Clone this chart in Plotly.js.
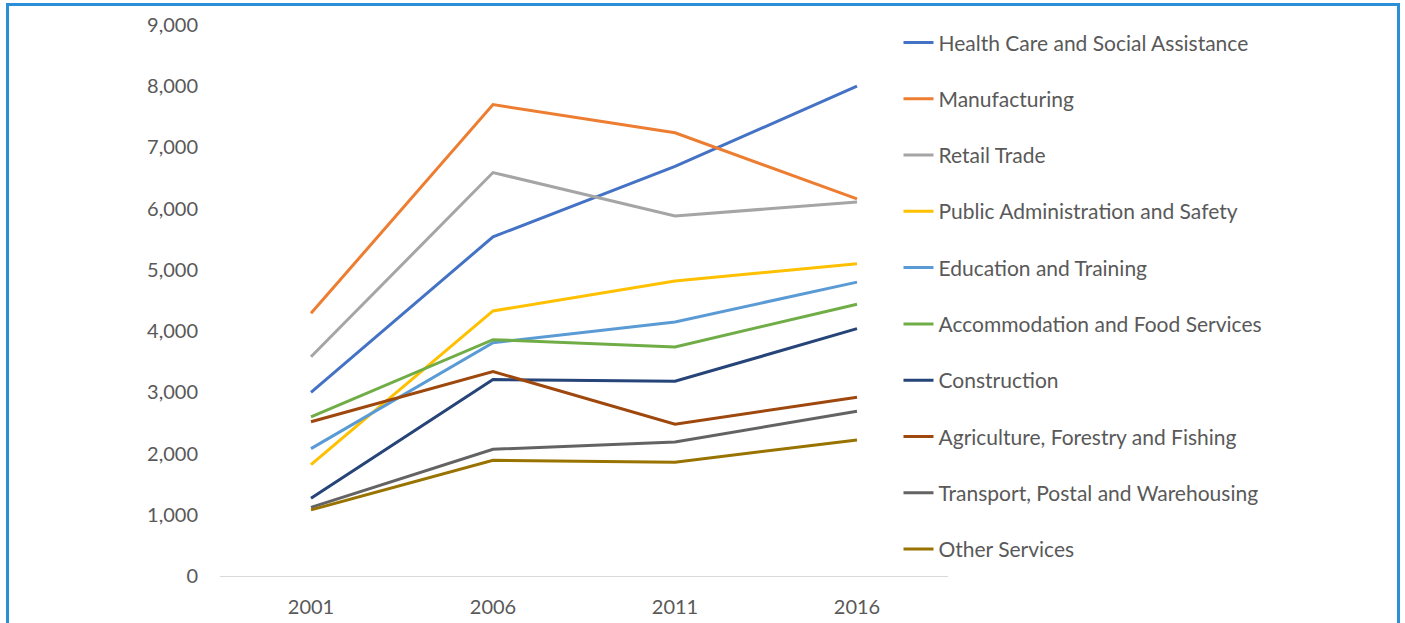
<!DOCTYPE html>
<html>
<head>
<meta charset="utf-8">
<script src="https://cdn.plot.ly/plotly-3.0.1.min.js"></script>
<style>
  html, body { margin: 0; padding: 0; background: #ffffff; overflow: hidden; }
  #wrap { position: relative; width: 1405px; height: 623px; }
  #frame { position: absolute; left: 6px; top: 3px; width: 1394px; height: 640px;
           border: 3px solid #2a8fd6; box-sizing: border-box; pointer-events: none; z-index: 2; }
  #chart { position: absolute; left: 0; top: 0; width: 1405px; height: 623px; }
</style>
</head>
<body>
<div id="wrap">
  <div id="chart"></div>
  <div id="frame"></div>
</div>
<script>
const years = ['2001', '2006', '2011', '2016'];

const healthCare      = [3000, 5540, 6690, 8000];
const manufacturing   = [4290, 7700, 7240, 6160];
const retailTrade     = [3580, 6590, 5880, 6110];
const publicAdmin     = [1820, 4330, 4820, 5100];
const education       = [2080, 3810, 4150, 4800];
const accommodation   = [2600, 3860, 3740, 4440];
const construction    = [1270, 3210, 3180, 4040];
const agriculture     = [2520, 3340, 2480, 2920];
const transport       = [1120, 2070, 2190, 2690];
const otherServices   = [1080, 1890, 1860, 2220];

const seriesNames = [
  'Health Care and Social Assistance',
  'Manufacturing',
  'Retail Trade',
  'Public Administration and Safety',
  'Education and Training',
  'Accommodation and Food Services',
  'Construction',
  'Agriculture, Forestry and Fishing',
  'Transport, Postal and Warehousing',
  'Other Services'
];
const seriesValues = [healthCare, manufacturing, retailTrade, publicAdmin, education,
                      accommodation, construction, agriculture, transport, otherServices];
const seriesColors = ['#4472c4', '#ed7d31', '#a5a5a5', '#ffc000', '#5b9bd5',
                      '#70ad47', '#264478', '#9e480e', '#636363', '#997300'];

const traces = seriesNames.map((name, i) => ({
  type: 'scatter',
  mode: 'lines',
  name: name,
  x: years,
  y: seriesValues[i],
  legendgroup: 'g' + i,
  line: { color: seriesColors[i], width: 3 },
  hoverinfo: 'x+y+name'
}));

const fontFam = 'Lato, "Open Sans", sans-serif';

const layout = {
  width: 1405,
  height: 623,
  margin: { l: 220, r: 457, t: 25, b: 47 },
  paper_bgcolor: 'rgba(0,0,0,0)',
  plot_bgcolor: 'rgba(0,0,0,0)',
  font: { family: fontFam, color: '#595959', size: 20 },
  showlegend: true,
  legend: {
    x: 0.932, xanchor: 'left',
    y: 1.005, yanchor: 'top',
    font: { family: fontFam, color: '#595959', size: 21 },
    tracegroupgap: 26,
    maxheight: 620,
    bgcolor: 'rgba(0,0,0,0)',
    borderwidth: 0
  },
  xaxis: {
    type: 'category',
    range: [-0.5, 3.5],
    showgrid: false,
    zeroline: false,
    showline: true,
    linecolor: '#d9d9d9',
    linewidth: 1,
    ticks: '',
    ticklabelstandoff: 13,
    tickfont: { family: fontFam, color: '#595959', size: 20 },
    fixedrange: true
  },
  yaxis: {
    range: [0, 9000],
    dtick: 1000,
    tick0: 0,
    tickformat: ',d',
    showgrid: false,
    zeroline: false,
    showline: false,
    ticks: '',
    ticklabelstandoff: 21,
    tickfont: { family: fontFam, color: '#595959', size: 20 },
    fixedrange: true
  }
};

Plotly.newPlot('chart', traces, layout, { displayModeBar: false, staticPlot: true });
</script>
</body>
</html>
